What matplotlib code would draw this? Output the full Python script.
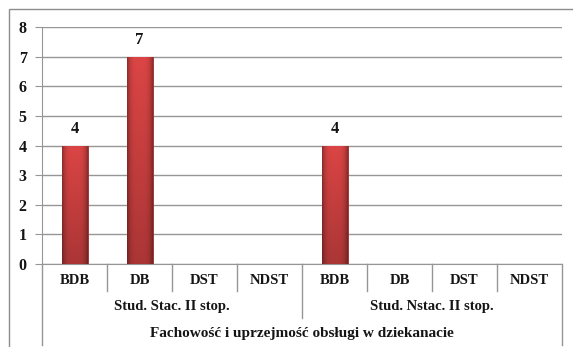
import numpy as np
import matplotlib.pyplot as plt
from matplotlib.patches import Rectangle

groups = ["Stud. Stac. II stop.", "Stud. Nstac. II stop."]
grades = ["BDB", "DB", "DST", "NDST"]
stac = [4, 7, 0, 0]
nstac = [4, 0, 0, 0]
title = "Fachowość i uprzejmość obsługi w dziekanacie"

values = stac + nstac
labels = grades + grades
x = np.arange(len(values))

plt.rcParams['font.family'] = ['Liberation Serif', 'DejaVu Serif']
plt.rcParams['font.weight'] = 'bold'

W, H = 573, 347
fig = plt.figure(figsize=(W / 100, H / 100), dpi=100)
ax = fig.add_axes([42 / W, (H - 264) / H, 520 / W, (264 - 27) / H])

gray = '#969696'
txt = '#151515'

# outer frame of the chart object
fig.patches.append(Rectangle((9 / W, -0.1), 1.0, (H - 9) / H + 0.1,
                             transform=fig.transFigure, fill=False,
                             edgecolor='#8c8c8c', linewidth=1.0))

ax.set_xlim(-0.5, len(values) - 0.5)
ax.set_ylim(0, 8)
ax.set_yticks(range(9))
ax.tick_params(axis='y', length=5, color=gray, labelsize=11.5, pad=6,
               labelcolor=txt)
ax.tick_params(axis='x', length=0, labelbottom=False)
ax.yaxis.grid(True, color=gray, linewidth=1.0)
ax.set_axisbelow(True)
for s in ['top', 'right']:
    ax.spines[s].set_visible(False)
for s in ['left', 'bottom']:
    ax.spines[s].set_color(gray)

# cylindrical red shading for the bars
cols = np.linspace(-1, 1, 40)
rows = np.linspace(0, 1, 60)[:, None]
shade = 1 - 0.35 * cols ** 4
base = np.array([0.86, 0.27, 0.27])
img = np.empty((60, 40, 3))
for c in range(3):
    img[:, :, c] = base[c] * shade[None, :] * (0.78 + 0.22 * rows)
img = np.clip(img, 0, 1)

bars = ax.bar(x, values, width=0.4, color='#c83a3a', edgecolor='#9a2a2a',
              linewidth=0.6, zorder=2)
for b, v in zip(bars, values):
    if v <= 0:
        continue
    x0, w = b.get_x(), b.get_width()
    im = ax.imshow(img, extent=[x0, x0 + w, 0, v], origin='lower',
                   aspect='auto', zorder=3, interpolation='bilinear')
    im.set_clip_path(b)
    ax.text(x0 + w / 2, v + 0.3, str(v), ha='center', va='bottom',
            fontsize=12, fontweight='bold', color=txt)

# multi-level category axis below the plot
line_kw = dict(color=gray, linewidth=1.0, clip_on=False)
for i in range(1, len(values)):
    bottom = -1.82 if i == 4 else -0.91
    ax.plot([i - 0.5, i - 0.5], [0, bottom], **line_kw)
for xe in (-0.5, len(values) - 0.5):
    ax.plot([xe, xe], [0, -2.75], **line_kw)

for xi, lab in zip(x, labels):
    ax.text(xi, -0.57, lab, ha='center', va='center', fontsize=10.5,
            fontweight='bold', color=txt, clip_on=False)
for gi, g in enumerate(groups):
    ax.text(gi * 4 + 1.5, -1.45, g, ha='center', va='center', fontsize=10.5,
            fontweight='bold', color=txt, clip_on=False)
ax.text(3.5, -2.36, title, ha='center', va='center', fontsize=11,
        fontweight='bold', color=txt, clip_on=False)

fig.savefig('out.png', dpi=100)
